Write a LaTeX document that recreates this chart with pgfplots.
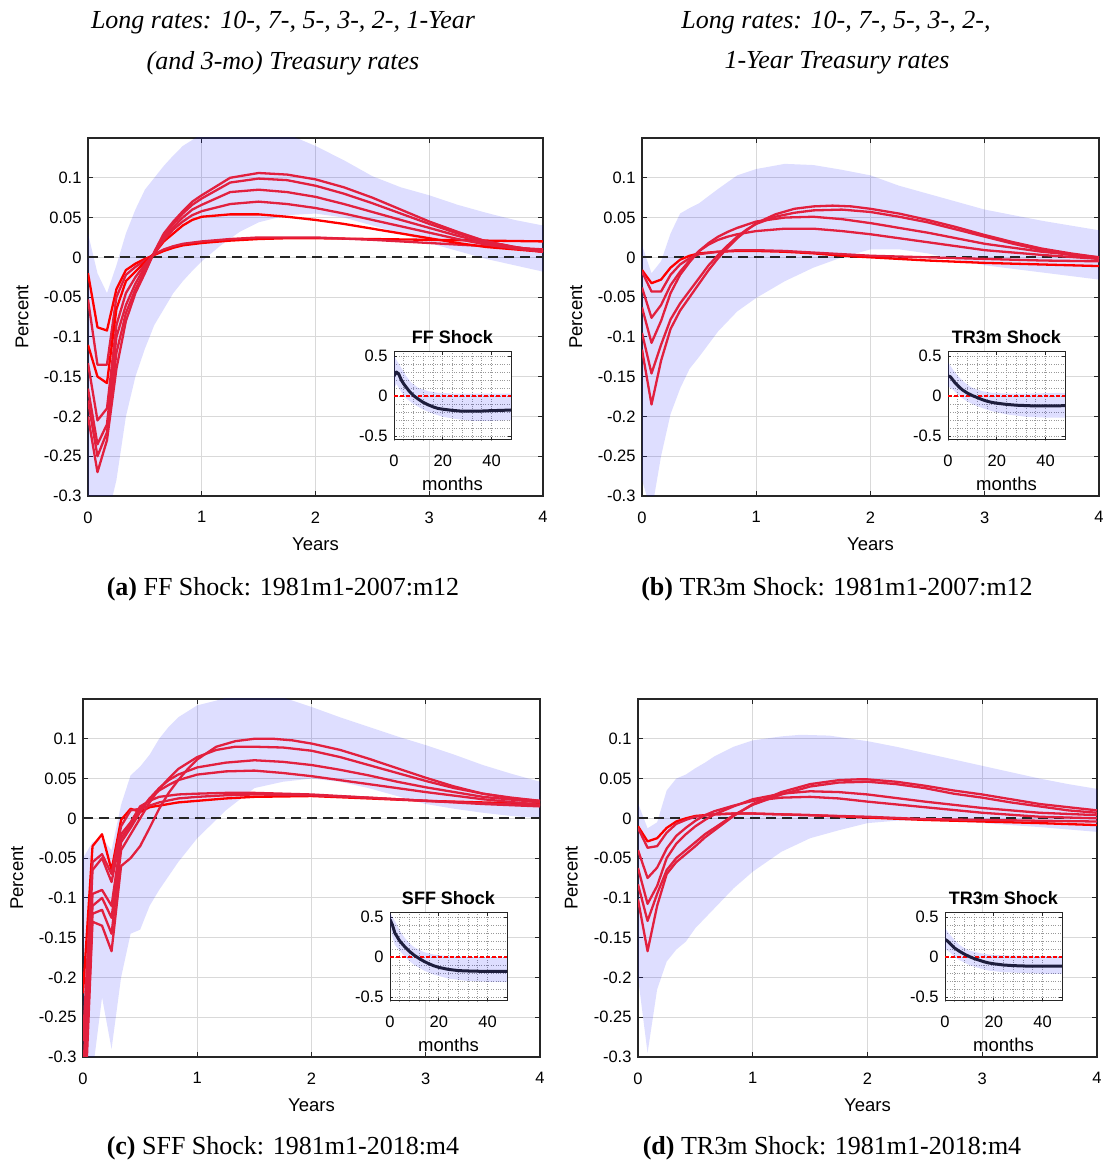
\documentclass[border=0pt]{standalone}
\usepackage{fontspec}
\setmainfont{Liberation Serif}
\newfontfamily\sanss{Liberation Sans}
\usepackage{pgfplots}
\pgfplotsset{compat=1.18}
\definecolor{lr}{RGB}{226,32,62}
\definecolor{pr}{RGB}{255,0,0}
\definecolor{navy}{RGB}{30,30,62}
\newcommand\tickfont{\sanss\fontsize{16.5}{18}\selectfont}
\newcommand\labfont{\sanss\fontsize{18.5}{20}\selectfont}
\newcommand\titfont{\sanss\bfseries\fontsize{18}{20}\selectfont}
\pgfplotsset{
  mainax/.style={
    scale only axis, height=358pt,
    xmin=0, xmax=48, ymin=-0.3, ymax=0.15,
    xtick={0,12,24,36,48}, xticklabels={0,1,2,3,4},
    ytick={-0.3,-0.25,-0.2,-0.15,-0.1,-0.05,0,0.05,0.1},
    yticklabels={-0.3,-0.25,-0.2,-0.15,-0.1,-0.05,0,0.05,0.1},
    grid=major, major grid style={draw=black!15, line width=0.9pt},
    tick align=inside, xtick pos=both, ytick pos=both, major tick length=5pt,
    axis line style={draw=black!85, line width=1.1pt},
    major tick style={draw=black!85, line width=1pt},
    tick label style={font=\tickfont},
    xticklabel style={yshift=-12pt},
    yticklabel style={xshift=-3pt},
    xlabel={Years}, ylabel={Percent},
    label style={font=\labfont},
    xlabel style={at={(axis description cs:0.5,-0.134)}, anchor=center},
    ylabel style={at={(axis description cs:-0.145,0.5)}, anchor=center},
  },
  inset/.style={
    scale only axis, width=117pt, height=88pt,
    xmin=0, xmax=48, ymin=-0.55, ymax=0.55,
    xtick={0,20,40}, xticklabels={0,20,40},
    ytick={-0.5,0,0.5}, yticklabels={-0.5,0,0.5},
    minor x tick num=4, minor y tick num=4,
    grid=both,
    major grid style={dotted, draw=black!40, line width=0.7pt},
    minor grid style={dotted, draw=black!40, line width=0.7pt},
    tick align=inside, xtick pos=both, ytick pos=both,
    major tick length=3pt, minor tick length=0pt,
    axis line style={draw=black!85, line width=1pt},
    major tick style={draw=black!85, line width=0.8pt},
    tick label style={font=\tickfont},
    xticklabel style={yshift=-11pt},
    yticklabel style={xshift=-3pt},
    axis background/.style={fill=white},
    xlabel={months}, label style={font=\labfont},
    xlabel style={at={(axis description cs:0.5,-0.5)}, anchor=center},
    title style={at={(axis description cs:0.5,1.105)}, anchor=center, font=\titfont},
  },
  band/.style={draw=none, fill=blue, fill opacity=0.13},
  rl/.style={draw=lr, line width=2.3pt, line join=round},
  prl/.style={draw=pr, line width=2.3pt, line join=round},
  zl/.style={draw=black!85, line width=2pt, dash pattern=on 10pt off 6pt},
  nl/.style={draw=navy, line width=3pt, line join=round},
  rdl/.style={draw=pr, line width=2.8pt, dash pattern=on 4pt off 2pt},
}
\begin{document}
\begin{tikzpicture}[x=1pt,y=1pt]
\path[use as bounding box] (0,0) rectangle (1103,1162);

% ---------- titles ----------
\node[font=\itshape\fontsize{26}{28}\selectfont] at (283,1139) {Long rates: 10-, 7-, 5-, 3-, 2-, 1-Year};
\node[font=\itshape\fontsize{26}{28}\selectfont] at (283,1099) {(and 3-mo) Treasury rates};
\node[font=\itshape\fontsize{26}{28}\selectfont] at (836,1139) {Long rates: 10-, 7-, 5-, 3-, 2-,};
\node[font=\itshape\fontsize{26}{28}\selectfont] at (837,1099) {1-Year Treasury rates};
\node[font=\fontsize{26}{28}\selectfont] at (283,573) {\textbf{(a)} FF Shock: 1981m1-2007:m12};
\node[font=\fontsize{26}{28}\selectfont] at (837,573) {\textbf{(b)} TR3m Shock: 1981m1-2007:m12};
\node[font=\fontsize{26}{28}\selectfont] at (283,14) {\textbf{(c)} SFF Shock: 1981m1-2018:m4};
\node[font=\fontsize{26}{28}\selectfont] at (832,14) {\textbf{(d)} TR3m Shock: 1981m1-2018:m4};

% ---------- panel a ----------
\begin{axis}[mainax, width=455pt, at={(88pt,666pt)}, anchor=south west]
\addplot[band] coordinates {(0,0.03)(1,-0.02)(2,-0.045)(3,-0.01)(4,0.03)(5,0.06)(6,0.085)(7,0.1)(8,0.115)(9,0.128)(10,0.14)(12,0.155)(15,0.165)(18,0.165)(21,0.155)(24,0.14)(27,0.122)(30,0.102)(33,0.088)(36,0.078)(39,0.066)(42,0.056)(45,0.047)(48,0.04)
 (48,-0.018)(45,-0.01)(42,-0.002)(39,0.008)(36,0.018)(33,0.03)(30,0.04)(27,0.05)(24,0.055)(21,0.053)(18,0.044)(16,0.032)(14,0.015)(12,-0.005)(11,-0.017)(10,-0.03)(9,-0.045)(8,-0.065)(7,-0.085)(6,-0.115)(5,-0.15)(4,-0.2)(3,-0.28)(2,-0.33)(1,-0.35)(0,-0.35)} -- cycle;
\addplot[zl] coordinates {(0,0)(48,0)};
\addplot[prl] coordinates {(0,-0.02)(1,-0.088)(2,-0.092)(3,-0.04)(4,-0.016)(5,-0.008)(6,-0.002)(7,0.003)(8,0.008)(9,0.012)(10,0.015)(12,0.018)(15,0.021)(18,0.023)(21,0.024)(24,0.024)(30,0.023)(36,0.022)(42,0.021)(48,0.02)};
\addplot[rl] coordinates {(0,-0.053)(1,-0.135)(2,-0.135)(3,-0.05)(4,-0.022)(5,-0.012)(6,-0.004)(7,0.004)(8,0.01)(9,0.014)(10,0.017)(12,0.02)(15,0.023)(18,0.025)(21,0.025)(24,0.025)(30,0.022)(36,0.018)(42,0.014)(48,0.01)};
\addplot[prl] coordinates {(0,-0.11)(1,-0.15)(2,-0.158)(3,-0.065)(4,-0.03)(5,-0.018)(6,-0.006)(7,0.005)(8,0.02)(9,0.03)(10,0.04)(11,0.047)(12,0.051)(15,0.054)(18,0.054)(21,0.051)(24,0.047)(27,0.042)(30,0.036)(33,0.03)(36,0.024)(39,0.018)(42,0.013)(45,0.01)(48,0.007)};
\addplot[rl] coordinates {(0,-0.133)(1,-0.205)(2,-0.19)(3,-0.085)(4,-0.045)(5,-0.025)(6,-0.009)(7,0.005)(8,0.022)(9,0.035)(10,0.045)(11,0.053)(12,0.058)(15,0.067)(18,0.07)(21,0.067)(24,0.062)(27,0.055)(30,0.047)(33,0.039)(36,0.031)(39,0.023)(42,0.016)(45,0.011)(48,0.007)};
\addplot[rl] coordinates {(0,-0.165)(1,-0.235)(2,-0.21)(3,-0.1)(4,-0.06)(5,-0.033)(6,-0.012)(7,0.005)(8,0.025)(9,0.038)(10,0.05)(11,0.06)(12,0.066)(15,0.082)(18,0.085)(21,0.082)(24,0.076)(27,0.067)(30,0.057)(33,0.047)(36,0.037)(39,0.027)(42,0.018)(45,0.012)(48,0.007)};
\addplot[rl] coordinates {(0,-0.18)(1,-0.25)(2,-0.22)(3,-0.12)(4,-0.07)(5,-0.04)(6,-0.016)(7,0.006)(8,0.028)(9,0.042)(10,0.055)(11,0.066)(12,0.074)(15,0.094)(18,0.099)(21,0.097)(24,0.09)(27,0.08)(30,0.068)(33,0.055)(36,0.042)(39,0.03)(42,0.02)(45,0.013)(48,0.008)};
\addplot[rl] coordinates {(0,-0.2)(1,-0.27)(2,-0.23)(3,-0.14)(4,-0.08)(5,-0.045)(6,-0.02)(7,0.007)(8,0.03)(9,0.045)(10,0.058)(11,0.07)(12,0.078)(15,0.1)(18,0.106)(21,0.104)(24,0.098)(27,0.088)(30,0.075)(33,0.06)(36,0.045)(39,0.032)(42,0.02)(45,0.013)(48,0.008)};
\end{axis}
\begin{axis}[inset, at={(394pt,722pt)}, anchor=south west, title={FF Shock}]
\addplot[band] coordinates {(0,0.5)(1,0.45)(3,0.35)(5,0.25)(7,0.17)(10,0.1)(14,0.06)(18,0.04)(24,0.03)(30,0.03)(36,0.03)(42,0.03)(48,0.03)
 (48,-0.3)(40,-0.31)(32,-0.31)(26,-0.29)(20,-0.26)(16,-0.22)(12,-0.17)(8,-0.1)(5,-0.03)(3,0.05)(1,0.15)(0,0.1)} -- cycle;
\addplot[rdl] coordinates {(0,0)(48,0)};
\addplot[nl] coordinates {(0,0.25)(1,0.3)(2,0.27)(3,0.2)(4,0.15)(5,0.11)(6,0.07)(7,0.035)(8,0.005)(10,-0.04)(12,-0.08)(14,-0.11)(16,-0.135)(18,-0.155)(20,-0.165)(24,-0.18)(28,-0.19)(32,-0.19)(36,-0.188)(40,-0.183)(44,-0.18)(48,-0.175)};
\end{axis}

% ---------- panel b ----------
\begin{axis}[mainax, width=457pt, at={(642pt,666pt)}, anchor=south west]
\addplot[band] coordinates {(0,0.015)(1,-0.02)(2,-0.005)(3,0.03)(4,0.055)(5,0.062)(6,0.068)(8,0.086)(10,0.103)(12,0.111)(15,0.1175)(18,0.116)(21,0.11)(24,0.103)(27,0.09)(30,0.08)(33,0.07)(36,0.06)(39,0.053)(42,0.046)(45,0.04)(48,0.034)
 (48,-0.028)(42,-0.019)(36,-0.01)(33,-0.003)(30,0.005)(27,0.01)(24,0.01)(21,0.0)(18,-0.013)(15,-0.03)(12,-0.051)(10,-0.068)(8,-0.093)(6,-0.125)(5,-0.14)(4,-0.165)(3,-0.197)(2,-0.25)(1,-0.32)(0,-0.28)} -- cycle;
\addplot[zl] coordinates {(0,0)(48,0)};
\addplot[prl] coordinates {(0,-0.016)(1,-0.0325)(2,-0.028)(3,-0.013)(4,-0.003)(5,0.002)(6,0.005)(8,0.007)(10,0.008)(12,0.008)(15,0.007)(18,0.005)(21,0.002)(24,0.0)(30,-0.004)(36,-0.007)(42,-0.009)(48,-0.011)};
\addplot[rl] coordinates {(0,-0.018)(1,-0.043)(2,-0.043)(3,-0.022)(4,-0.009)(5,-0.001)(6,0.004)(8,0.007)(10,0.009)(12,0.009)(15,0.008)(18,0.006)(21,0.004)(24,0.002)(30,0.0)(36,-0.002)(42,-0.004)(48,-0.005)};
\addplot[rl] coordinates {(0,-0.038)(1,-0.076)(2,-0.06)(3,-0.035)(4,-0.018)(5,-0.004)(6,0.008)(7,0.016)(8,0.022)(9,0.026)(10,0.029)(12,0.033)(15,0.036)(18,0.036)(21,0.033)(24,0.029)(27,0.024)(30,0.019)(33,0.014)(36,0.009)(42,0.003)(48,-0.002)};
\addplot[rl] coordinates {(0,-0.063)(1,-0.1075)(2,-0.08)(3,-0.045)(4,-0.022)(5,-0.006)(6,0.008)(7,0.018)(8,0.026)(9,0.032)(10,0.037)(12,0.045)(15,0.05)(18,0.051)(21,0.048)(24,0.043)(27,0.037)(30,0.031)(33,0.024)(36,0.017)(42,0.007)(48,0.0)};
\addplot[rl] coordinates {(0,-0.095)(1,-0.146)(2,-0.11)(3,-0.078)(4,-0.058)(5,-0.042)(6,-0.026)(7,-0.01)(8,0.003)(9,0.015)(10,0.026)(11,0.035)(12,0.042)(14,0.051)(16,0.056)(18,0.059)(21,0.06)(24,0.057)(27,0.051)(30,0.044)(33,0.035)(36,0.026)(39,0.017)(42,0.009)(45,0.003)(48,-0.002)};
\addplot[rl] coordinates {(0,-0.116)(1,-0.185)(2,-0.13)(3,-0.09)(4,-0.067)(5,-0.05)(6,-0.033)(7,-0.016)(8,-0.001)(9,0.012)(10,0.024)(11,0.034)(12,0.043)(14,0.054)(16,0.061)(18,0.064)(20,0.065)(22,0.064)(24,0.061)(27,0.055)(30,0.047)(33,0.038)(36,0.028)(39,0.019)(42,0.011)(45,0.005)(48,0.0)};
\end{axis}
\begin{axis}[inset, at={(948pt,722pt)}, anchor=south west, title={TR3m Shock}]
\addplot[band] coordinates {(0,0.42)(2,0.33)(4,0.25)(6,0.19)(8,0.14)(10,0.1)(14,0.06)(18,0.04)(24,0.03)(32,0.03)(40,0.035)(48,0.04)
 (48,-0.27)(40,-0.27)(32,-0.26)(24,-0.23)(18,-0.19)(14,-0.15)(10,-0.1)(8,-0.07)(6,-0.03)(4,0.02)(2,0.08)(0,0.12)} -- cycle;
\addplot[rdl] coordinates {(0,0)(48,0)};
\addplot[nl] coordinates {(0,0.25)(1,0.24)(2,0.2)(3,0.16)(4,0.13)(5,0.1)(6,0.075)(8,0.035)(10,0.005)(12,-0.02)(14,-0.045)(16,-0.065)(18,-0.08)(20,-0.09)(24,-0.105)(28,-0.115)(32,-0.12)(36,-0.125)(40,-0.125)(44,-0.125)(48,-0.12)};
\end{axis}

% ---------- panel c ----------
\begin{axis}[mainax, width=457pt, at={(83pt,105pt)}, anchor=south west]
\addplot[band] coordinates {(0,-0.05)(1,-0.03)(2,-0.025)(3,-0.04)(4,0.017)(5,0.054)(6,0.065)(7,0.08)(8,0.1)(9,0.115)(10,0.127)(12,0.142)(14,0.148)(16,0.155)(20,0.156)(24,0.14)(27,0.127)(30,0.115)(33,0.103)(36,0.092)(39,0.08)(42,0.067)(45,0.056)(48,0.046)
 (48,0.0)(45,0.003)(42,0.007)(39,0.012)(36,0.018)(33,0.028)(30,0.038)(27,0.046)(24,0.05)(21,0.046)(18,0.038)(15,0.01)(12,-0.025)(10,-0.055)(8,-0.09)(7,-0.11)(6,-0.14)(5,-0.145)(4,-0.2)(3,-0.29)(2,-0.225)(1,-0.32)(0,-0.35)} -- cycle;
\addplot[zl] coordinates {(0,0)(48,0)};
\addplot[prl] coordinates {(0,-0.22)(1,-0.035)(2,-0.02)(3,-0.065)(4,-0.002)(5,0.012)(6,0.008)(7,0.014)(8,0.016)(10,0.02)(12,0.022)(15,0.025)(18,0.027)(24,0.028)(30,0.025)(36,0.022)(42,0.02)(48,0.018)};
\addplot[rl] coordinates {(0,-0.28)(1,-0.055)(2,-0.045)(3,-0.07)(4,-0.01)(5,0.01)(6,0.012)(7,0.016)(8,0.02)(10,0.025)(12,0.027)(15,0.029)(18,0.03)(24,0.029)(30,0.026)(36,0.022)(42,0.019)(48,0.016)};
\addplot[rl] coordinates {(0,-0.33)(1,-0.065)(2,-0.05)(3,-0.08)(4,-0.02)(5,-0.005)(6,0.015)(7,0.022)(8,0.027)(10,0.03)(12,0.031)(15,0.032)(18,0.032)(24,0.03)(30,0.026)(36,0.022)(42,0.018)(48,0.015)};
\addplot[rl] coordinates {(0,-0.36)(1,-0.095)(2,-0.09)(3,-0.11)(4,-0.025)(5,-0.008)(6,0.01)(7,0.025)(8,0.035)(9,0.042)(10,0.048)(12,0.055)(15,0.059)(18,0.06)(21,0.057)(24,0.053)(27,0.048)(30,0.043)(33,0.038)(36,0.033)(42,0.024)(48,0.017)};
\addplot[rl] coordinates {(0,-0.38)(1,-0.11)(2,-0.1)(3,-0.125)(4,-0.03)(5,-0.012)(6,0.008)(7,0.025)(8,0.038)(9,0.048)(10,0.055)(12,0.064)(15,0.07)(18,0.073)(21,0.071)(24,0.067)(27,0.061)(30,0.054)(33,0.046)(36,0.039)(42,0.027)(48,0.02)};
\addplot[rl] coordinates {(0,-0.4)(1,-0.12)(2,-0.115)(3,-0.145)(4,-0.04)(5,-0.02)(6,0.0)(7,0.02)(8,0.037)(9,0.05)(10,0.062)(12,0.077)(14,0.086)(16,0.09)(18,0.09)(21,0.089)(24,0.085)(27,0.077)(30,0.067)(33,0.057)(36,0.047)(39,0.038)(42,0.031)(45,0.026)(48,0.022)};
\addplot[rl] coordinates {(0,-0.42)(1,-0.13)(2,-0.135)(3,-0.167)(4,-0.06)(5,-0.05)(6,-0.035)(7,-0.012)(8,0.012)(9,0.032)(10,0.048)(11,0.062)(12,0.074)(14,0.09)(16,0.097)(18,0.1)(20,0.1)(22,0.098)(24,0.094)(27,0.086)(30,0.075)(33,0.063)(36,0.051)(39,0.04)(42,0.031)(45,0.025)(48,0.022)};
\end{axis}
\begin{axis}[inset, at={(390pt,161pt)}, anchor=south west, title={SFF Shock}]
\addplot[band] coordinates {(0,0.55)(2,0.45)(4,0.33)(6,0.24)(8,0.17)(10,0.12)(14,0.06)(18,0.03)(24,0.01)(32,0.0)(40,-0.005)(48,-0.01)
 (48,-0.31)(40,-0.31)(32,-0.3)(24,-0.27)(18,-0.22)(14,-0.17)(10,-0.1)(8,-0.05)(6,0.01)(4,0.08)(2,0.15)(1,0.25)(0,0.4)} -- cycle;
\addplot[rdl] coordinates {(0,0)(48,0)};
\addplot[nl] coordinates {(0,0.47)(1,0.4)(2,0.3)(3,0.25)(4,0.2)(6,0.13)(8,0.07)(10,0.02)(12,-0.02)(14,-0.055)(16,-0.085)(18,-0.11)(20,-0.13)(24,-0.155)(28,-0.17)(32,-0.175)(36,-0.178)(40,-0.18)(44,-0.18)(48,-0.18)};
\end{axis}

% ---------- panel d ----------
\begin{axis}[mainax, width=459pt, at={(638pt,105pt)}, anchor=south west]
\addplot[band] coordinates {(0,0.019)(1,-0.0125)(2,-0.005)(3,0.035)(4,0.05)(5,0.055)(6,0.063)(7,0.07)(8,0.078)(10,0.09)(12,0.098)(15,0.103)(17,0.105)(20,0.104)(24,0.097)(27,0.09)(30,0.082)(33,0.074)(36,0.066)(39,0.058)(42,0.05)(45,0.043)(48,0.037)
 (48,-0.017)(42,-0.011)(36,-0.006)(33,-0.004)(30,-0.003)(27,-0.003)(24,-0.006)(21,-0.015)(18,-0.025)(15,-0.042)(12,-0.067)(10,-0.088)(8,-0.113)(6,-0.138)(5,-0.155)(4,-0.165)(3,-0.18)(2,-0.215)(1,-0.295)(0,-0.2)} -- cycle;
\addplot[zl] coordinates {(0,0)(48,0)};
\addplot[prl] coordinates {(0,-0.01)(1,-0.029)(2,-0.025)(3,-0.012)(4,-0.004)(5,0.0)(6,0.003)(8,0.005)(10,0.006)(12,0.006)(18,0.004)(24,0.001)(30,-0.002)(36,-0.004)(42,-0.006)(48,-0.0085)};
\addplot[rl] coordinates {(0,-0.012)(1,-0.037)(2,-0.035)(3,-0.018)(4,-0.007)(5,-0.002)(6,0.002)(8,0.005)(10,0.006)(12,0.006)(18,0.004)(24,0.002)(30,-0.001)(36,-0.002)(42,-0.003)(48,-0.004)};
\addplot[rl] coordinates {(0,-0.04)(1,-0.075)(2,-0.062)(3,-0.038)(4,-0.022)(5,-0.012)(6,-0.003)(7,0.004)(8,0.009)(10,0.016)(12,0.022)(15,0.026)(18,0.027)(21,0.025)(24,0.021)(30,0.014)(36,0.007)(42,0.002)(48,0.0)};
\addplot[rl] coordinates {(0,-0.0625)(1,-0.1075)(2,-0.085)(3,-0.05)(4,-0.032)(5,-0.02)(6,-0.01)(7,-0.002)(8,0.005)(10,0.015)(12,0.024)(15,0.031)(18,0.034)(21,0.033)(24,0.03)(30,0.021)(36,0.013)(42,0.007)(48,0.004)};
\addplot[rl] coordinates {(0,-0.083)(1,-0.129)(2,-0.095)(3,-0.065)(4,-0.05)(5,-0.04)(6,-0.03)(7,-0.02)(8,-0.012)(9,-0.004)(10,0.004)(12,0.017)(15,0.03)(18,0.04)(21,0.045)(24,0.046)(27,0.043)(30,0.038)(33,0.031)(36,0.026)(39,0.02)(42,0.015)(45,0.01)(48,0.007)};
\addplot[rl] coordinates {(0,-0.102)(1,-0.167)(2,-0.11)(3,-0.07)(4,-0.055)(5,-0.045)(6,-0.035)(7,-0.024)(8,-0.015)(9,-0.006)(10,0.003)(12,0.018)(15,0.033)(18,0.043)(21,0.048)(23,0.049)(24,0.049)(27,0.046)(30,0.041)(33,0.035)(36,0.03)(39,0.024)(42,0.018)(45,0.014)(48,0.01)};
\end{axis}
\begin{axis}[inset, at={(945pt,161pt)}, anchor=south west, title={TR3m Shock}]
\addplot[band] coordinates {(0,0.36)(2,0.28)(4,0.21)(6,0.15)(8,0.11)(10,0.08)(14,0.05)(18,0.03)(24,0.02)(32,0.015)(40,0.01)(48,0.01)
 (48,-0.21)(40,-0.21)(32,-0.2)(24,-0.19)(18,-0.17)(14,-0.14)(10,-0.1)(8,-0.07)(6,-0.04)(4,0.0)(2,0.06)(0,0.1)} -- cycle;
\addplot[rdl] coordinates {(0,0)(48,0)};
\addplot[nl] coordinates {(0,0.22)(1,0.2)(2,0.17)(3,0.14)(4,0.11)(5,0.09)(6,0.07)(8,0.035)(10,0.005)(12,-0.02)(14,-0.04)(16,-0.06)(18,-0.075)(20,-0.085)(24,-0.1)(28,-0.108)(32,-0.112)(36,-0.115)(40,-0.115)(44,-0.115)(48,-0.115)};
\end{axis}
\end{tikzpicture}
\end{document}
